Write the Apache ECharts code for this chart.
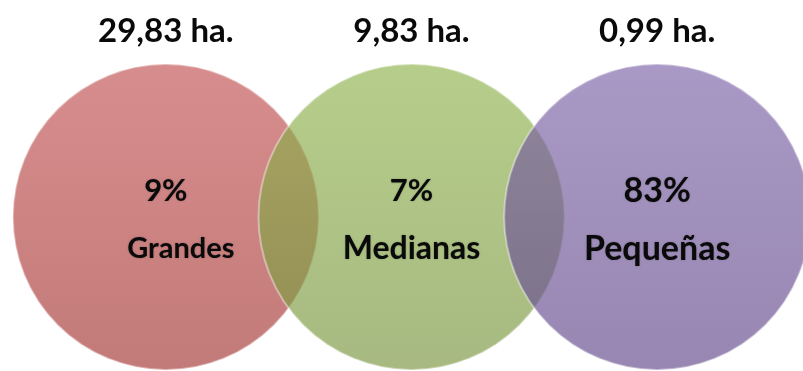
<!DOCTYPE html>
<html>
<head>
<meta charset="utf-8">
<script src="https://cdn.jsdelivr.net/npm/echarts@6/dist/echarts.min.js"></script>
<style>
  html, body { margin: 0; padding: 0; background: #ffffff; }
  #chart { width: 803px; height: 371px; }
</style>
</head>
<body>
<div id="chart"></div>
<script>
// Farm size groups, their share of holdings and average area
var categories = ['Grandes', 'Medianas', 'Pequeñas'];
var percentages = [9, 7, 83];
var areaLabels = ['29,83 ha.', '9,83 ha.', '0,99 ha.'];

// Translucent fill gradients (top, bottom) for each circle
var palette = [
  ['rgba(194,82,82,0.66)', 'rgba(163,54,51,0.66)'],
  ['rgba(144,180,78,0.66)', 'rgba(121,149,63,0.66)'],
  ['rgba(125,100,168,0.66)', 'rgba(97,72,137,0.66)']
];
// Per-circle label styling
var pctFontSize = [31, 31, 34];
var nameFontSize = [29, 32, 34];
var namePadLeft = [30, 0, 0];

var FONT = 'Lato, "Open Sans", sans-serif';
var INK = '#0a0a0a';

var chart = echarts.init(document.getElementById('chart'), null, { renderer: 'canvas' });

var seriesData = categories.map(function (c, i) {
  return {
    value: [c, 0.5],
    itemStyle: {
      color: new echarts.graphic.LinearGradient(0, 0, 0, 1, [
        { offset: 0, color: palette[i][0] },
        { offset: 1, color: palette[i][1] }
      ]),
      opacity: 1,
      borderColor: 'rgba(255,255,255,0.4)',
      borderWidth: 2
    },
    label: {
      rich: {
        pct: {
          fontSize: pctFontSize[i], fontWeight: 'bold', fontFamily: FONT, color: INK,
          lineHeight: 58, textShadowColor: 'rgba(0,0,0,0.25)', textShadowBlur: 2
        },
        name: {
          fontSize: nameFontSize[i], fontWeight: 'bold', fontFamily: FONT, color: INK,
          lineHeight: 58, padding: [0, 0, 0, namePadLeft[i]],
          textShadowColor: 'rgba(0,0,0,0.25)', textShadowBlur: 2
        }
      }
    }
  };
});

chart.setOption({
  animation: false,
  backgroundColor: '#ffffff',
  grid: { left: 43, right: 23, top: 67, bottom: 4 },
  xAxis: {
    type: 'category',
    position: 'top',
    data: categories,
    axisLine: { show: false },
    axisTick: { show: false },
    splitLine: { show: false },
    axisLabel: {
      margin: 19,
      fontSize: 33,
      fontWeight: 'bold',
      fontFamily: FONT,
      color: INK,
      formatter: function (v) { return areaLabels[categories.indexOf(v)]; }
    }
  },
  yAxis: {
    type: 'value',
    min: 0,
    max: 1,
    show: false
  },
  series: [{
    type: 'scatter',
    symbol: 'circle',
    symbolSize: 306,
    data: seriesData,
    label: {
      show: true,
      position: 'inside',
      offset: [0, 3],
      formatter: function (p) {
        var i = p.dataIndex;
        return '{pct|' + percentages[i] + '%}\n{name|' + categories[i] + '}';
      }
    },
    emphasis: { disabled: true }
  }]
});
</script>
</body>
</html>
